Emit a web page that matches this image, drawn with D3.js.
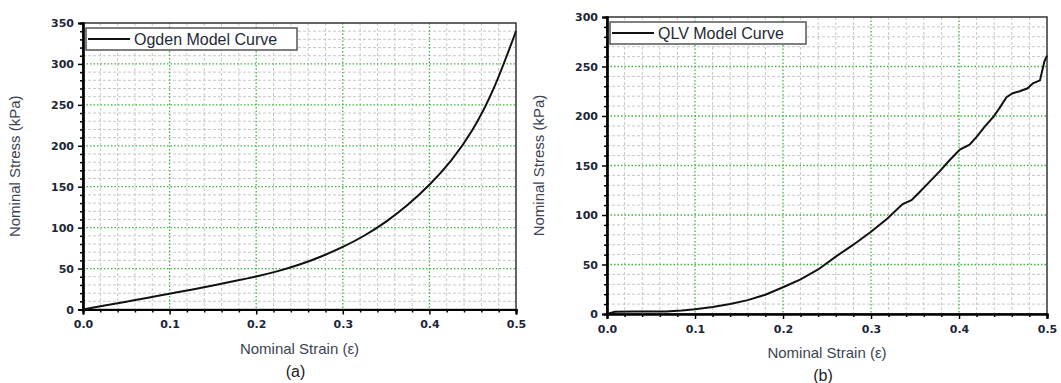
<!DOCTYPE html>
<html>
<head>
<meta charset="utf-8">
<script src="https://cdn.jsdelivr.net/npm/d3@7"></script>
<style>
  body { margin: 0; background: #fff; }
  svg { display: block; }
</style>
</head>
<body>
<div></div>
<script>
// Ogden model curve (a)
const ogdenStrain = [0, 0.025, 0.05, 0.075, 0.1, 0.125, 0.15, 0.175, 0.2, 0.225, 0.25,
  0.275, 0.3, 0.325, 0.35, 0.375, 0.4, 0.425, 0.45, 0.475, 0.5];
const ogdenStress = [0, 4.8, 9.6, 14.4, 19.3, 24.2, 29.3, 34.7, 40.4, 46.9, 54.9,
  64.8, 76.4, 90.4, 107.4, 127.9, 152.4, 181.9, 219.9, 271.9, 340];

// QLV model curve (b)
const qlvStrain = [0, 0.009, 0.03, 0.05, 0.067, 0.085, 0.1, 0.12, 0.14, 0.16, 0.18, 0.2,
  0.22, 0.24, 0.26, 0.28, 0.3, 0.318, 0.336, 0.346, 0.355, 0.367, 0.378, 0.389, 0.401,
  0.412, 0.42, 0.429, 0.439, 0.446, 0.454, 0.461, 0.469, 0.478, 0.484, 0.492, 0.497, 0.5];
const qlvStress = [0, 2.3, 2.4, 2.5, 2.6, 3.5, 4.7, 7, 10, 14, 19.5, 27,
  35, 45, 58, 70, 83, 96, 111, 115, 123, 134, 144, 155, 166,
  171, 179, 189, 199, 208, 219, 223, 225, 228, 233, 236, 255, 261];

const xTicks = [0, 0.1, 0.2, 0.3, 0.4, 0.5];
const yTicksA = [0, 50, 100, 150, 200, 250, 300, 350];
const yTicksB = [0, 50, 100, 150, 200, 250, 300];

const w = 1061;
const h = 383;
const svg = d3.select("div").append("svg").attr("width", w).attr("height", h);

drawPanel({
  xs: ogdenStrain, ys: ogdenStress, yTicks: yTicksA, yMax: 350,
  left: 83, right: 516, top: 23, bottom: 309.5,
  legend: "Ogden Model Curve", legendW: 211, tag: "(a)", smooth: true
});
drawPanel({
  xs: qlvStrain, ys: qlvStress, yTicks: yTicksB, yMax: 300,
  left: 607, right: 1047, top: 17, bottom: 314,
  legend: "QLV Model Curve", legendW: 196, tag: "(b)", smooth: false
});

function drawPanel(c) {
  const x = d3.scaleLinear().domain([0, 0.5]).range([c.left, c.right]);
  const y = d3.scaleLinear().domain([0, c.yMax]).range([c.bottom, c.top]);
  const g = svg.append("g");

  // minor grid
  const minorX = d3.range(0, 0.5001, 0.02).filter((v) => Math.abs(v * 10 - Math.round(v * 10)) > 1e-6);
  const minorY = d3.range(0, c.yMax + 0.1, 10).filter((v) => v % 50 !== 0);
  g.selectAll(".mx").data(minorX).enter().append("line")
    .attr("x1", (d) => x(d)).attr("x2", (d) => x(d))
    .attr("y1", c.top).attr("y2", c.bottom)
    .attr("stroke", "#c8c8c8").attr("stroke-dasharray", "3,2");
  g.selectAll(".my").data(minorY).enter().append("line")
    .attr("x1", c.left).attr("x2", c.right)
    .attr("y1", (d) => y(d)).attr("y2", (d) => y(d))
    .attr("stroke", "#c8c8c8").attr("stroke-dasharray", "3,2");

  // major grid
  g.selectAll(".gx").data(xTicks.slice(1, -1)).enter().append("line")
    .attr("x1", (d) => x(d)).attr("x2", (d) => x(d))
    .attr("y1", c.top).attr("y2", c.bottom)
    .attr("stroke", "#3cb83c").attr("stroke-width", 1.3).attr("stroke-dasharray", "1.5,2");
  g.selectAll(".gy").data(c.yTicks.slice(1, -1)).enter().append("line")
    .attr("x1", c.left).attr("x2", c.right)
    .attr("y1", (d) => y(d)).attr("y2", (d) => y(d))
    .attr("stroke", "#3cb83c").attr("stroke-width", 1.3).attr("stroke-dasharray", "1.5,2");

  // frame top / right
  g.append("rect").attr("x", c.left).attr("y", c.top)
    .attr("width", c.right - c.left).attr("height", c.bottom - c.top)
    .attr("fill", "none").attr("stroke", "#333").attr("stroke-width", 1.5);

  // curve
  const line = d3.line()
    .x((d, i) => x(c.xs[i]))
    .y((d) => y(d))
    .curve(c.smooth ? d3.curveNatural : d3.curveLinear);
  g.append("path").datum(c.ys).attr("d", line)
    .attr("fill", "none").attr("stroke", "#111").attr("stroke-width", 2);

  // axes
  const xAxis = d3.axisBottom(x).tickValues(xTicks).tickFormat(d3.format(".1f"))
    .tickSize(5).tickPadding(6);
  const xMinor = d3.axisBottom(x).tickValues(minorX).tickFormat("").tickSize(3);
  const yAxis = d3.axisLeft(y).tickValues(c.yTicks).tickFormat(d3.format("d"))
    .tickSize(5).tickPadding(4);
  const yMinor = d3.axisLeft(y).tickValues(minorY).tickFormat("").tickSize(3);

  [xMinor, xAxis].forEach((a) => {
    g.append("g").attr("transform", "translate(0," + c.bottom + ")").call(a);
  });
  [yMinor, yAxis].forEach((a) => {
    g.append("g").attr("transform", "translate(" + c.left + ",0)").call(a);
  });
  g.selectAll(".domain").attr("stroke", "#000").attr("stroke-width", 2.2);
  g.selectAll(".tick line").attr("stroke", "#000").attr("stroke-width", 1.5);
  g.selectAll(".tick text")
    .attr("font-family", "DejaVu Sans, sans-serif")
    .attr("font-weight", "bold")
    .attr("font-size", 11)
    .attr("fill", "#1c2636");

  // legend
  const lg = g.append("g").attr("transform", "translate(" + (c.left + 3) + "," + (c.top + 5) + ")");
  lg.append("rect").attr("width", c.legendW).attr("height", 22)
    .attr("fill", "#fff").attr("stroke", "#555").attr("stroke-width", 1.5);
  lg.append("line").attr("x1", 2).attr("x2", 44).attr("y1", 11).attr("y2", 11)
    .attr("stroke", "#111").attr("stroke-width", 2);
  lg.append("text").attr("x", 48).attr("y", 17)
    .attr("font-family", "Liberation Sans, Arial, sans-serif").attr("font-size", 16)
    .attr("fill", "#1f2a3a").text(c.legend);

  // titles
  const cx = (c.left + c.right) / 2;
  g.append("text").attr("x", cx).attr("y", c.bottom + 44)
    .attr("text-anchor", "middle")
    .attr("font-family", "Liberation Sans, Arial, sans-serif").attr("font-size", 15)
    .attr("fill", "#3b4452").text("Nominal Strain (\u03b5)");
  g.append("text").attr("x", cx - 4).attr("y", c.bottom + 67)
    .attr("text-anchor", "middle")
    .attr("font-family", "Liberation Sans, Arial, sans-serif").attr("font-size", 16)
    .attr("fill", "#222").text(c.tag);
  g.append("text")
    .attr("transform", "translate(" + (c.left - 63) + "," + ((c.top + c.bottom) / 2) + ") rotate(-90)")
    .attr("text-anchor", "middle")
    .attr("font-family", "Liberation Sans, Arial, sans-serif").attr("font-size", 15)
    .attr("fill", "#3b4452").text("Nominal Stress (kPa)");
}
</script>
</body>
</html>
